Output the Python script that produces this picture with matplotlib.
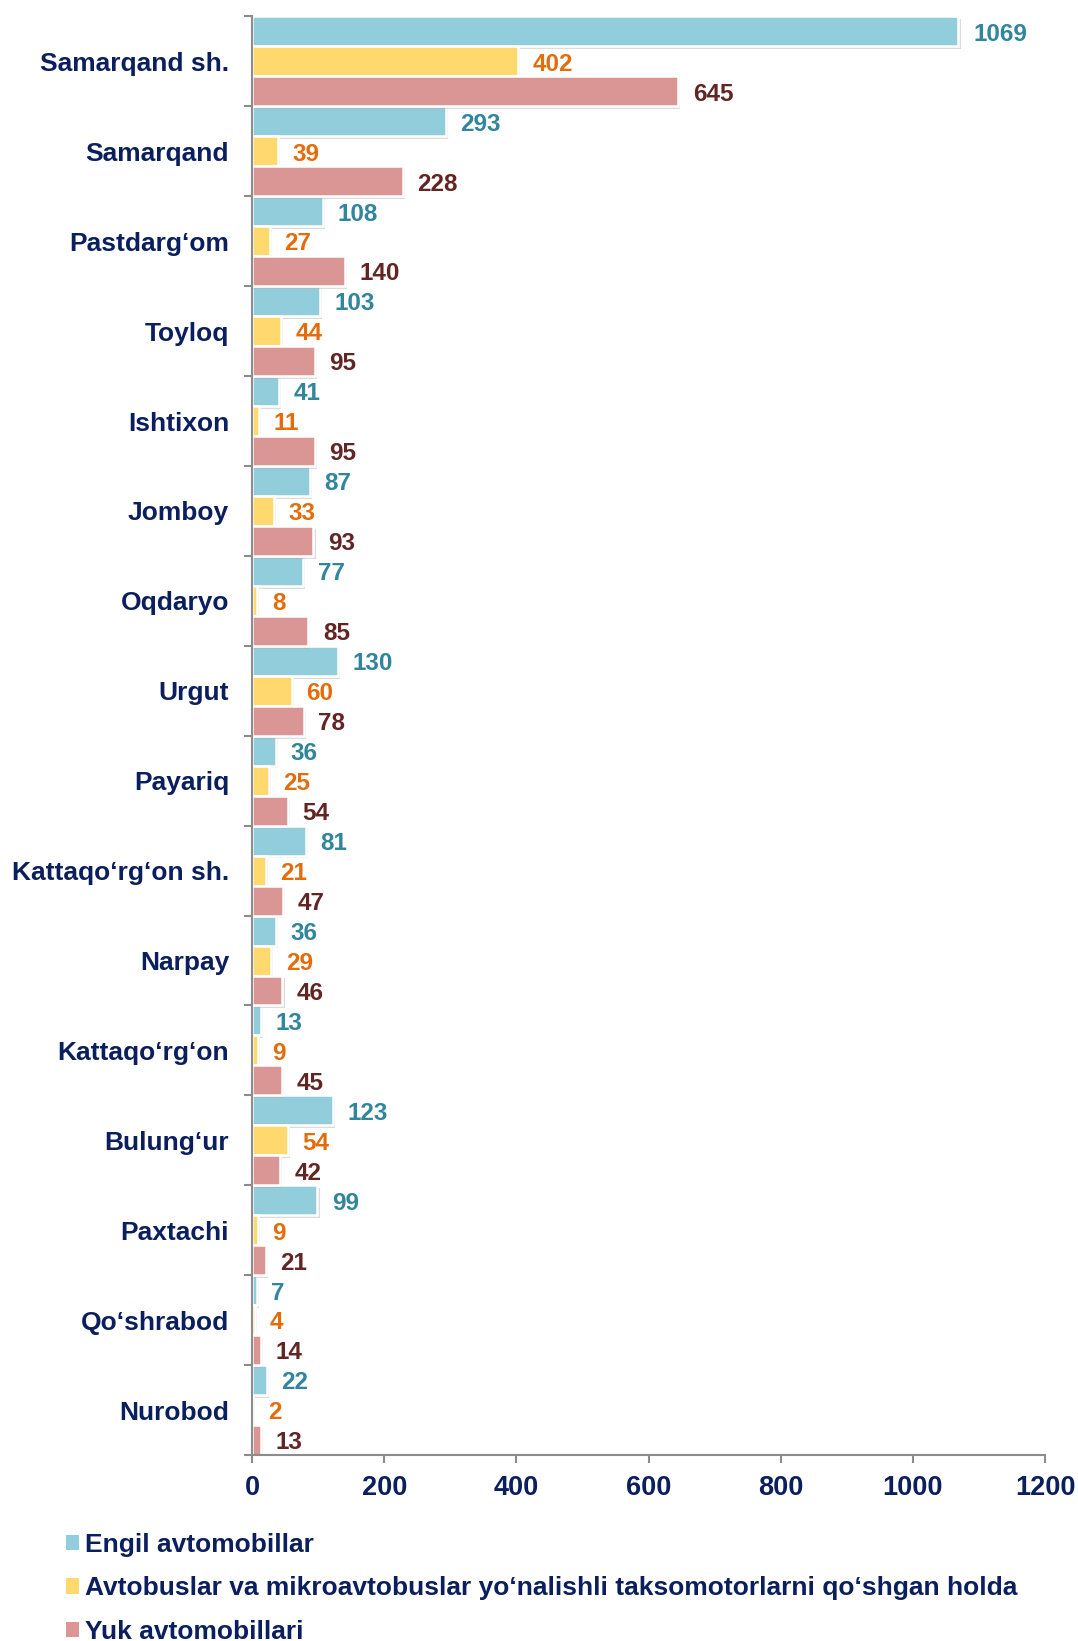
import matplotlib
matplotlib.use("Agg")
import numpy as np
import matplotlib.pyplot as plt
import matplotlib.patheffects as pe
from matplotlib.patches import Patch

districts = [
    "Samarqand sh.", "Samarqand", "Pastdarg‘om", "Toyloq", "Ishtixon",
    "Jomboy", "Oqdaryo", "Urgut", "Payariq", "Kattaqo‘rg‘on sh.",
    "Narpay", "Kattaqo‘rg‘on", "Bulung‘ur", "Paxtachi", "Qo‘shrabod", "Nurobod",
]
engil = [1069, 293, 108, 103, 41, 87, 77, 130, 36, 81, 36, 13, 123, 99, 7, 22]
avtobus = [402, 39, 27, 44, 11, 33, 8, 60, 25, 21, 29, 9, 54, 9, 4, 2]
yuk = [645, 228, 140, 95, 95, 93, 85, 78, 54, 47, 46, 45, 42, 21, 14, 13]

series_names = [
    "Engil avtomobillar",
    "Avtobuslar va mikroavtobuslar yo‘nalishli taksomotorlarni qo‘shgan holda",
    "Yuk avtomobillari",
]
bar_colors = ["#92CDDC", "#FFD86E", "#D99694"]
label_colors = ["#31859C", "#E46C0A", "#632523"]
navy = "#0B1F5E"
grey = "#8C8C8C"

plt.rcParams["font.family"] = ["Liberation Sans", "DejaVu Sans"]
plt.rcParams["font.weight"] = "bold"

fig = plt.figure(figsize=(10.78, 16.41), dpi=100)
ax = fig.add_axes([0.2338, 0.1133, 0.7356, 0.8767])

n = len(districts)
centers = np.arange(n)[::-1].astype(float)  # first district on top
h = 1 / 3
shadow = [pe.SimplePatchShadow(offset=(1.5, -2), shadow_rgbFace="#b0b0b0", alpha=0.45),
          pe.Normal()]

for i, (vals, col, lcol) in enumerate(zip([engil, avtobus, yuk], bar_colors, label_colors)):
    y = centers + h - i * h
    bars = ax.barh(y, vals, height=h, color=col, edgecolor="white", linewidth=1.8)
    for b in bars:
        b.set_path_effects(shadow)
    for yy, v in zip(y, vals):
        ax.annotate(str(v), (v, yy), xytext=(10.5, -2), textcoords="offset points",
                    va="center", ha="left", color=lcol, fontsize=17.5, fontweight="bold")

ax.set_xlim(0, 1200)
ax.set_ylim(-0.5, n - 0.5)
ax.set_xticks(range(0, 1201, 200))
ax.tick_params(axis="x", colors=grey, length=6, width=1.5, labelsize=19.5,
               labelcolor=navy, pad=8)

ax.set_yticks(centers)
ax.set_yticklabels(districts)
ax.set_yticks(np.arange(n + 1) - 0.5, minor=True)
ax.tick_params(axis="y", which="major", length=0, labelsize=19, labelcolor=navy, pad=16.5)
ax.tick_params(axis="y", which="minor", length=6, width=1.5, color=grey)

for s in ["top", "right"]:
    ax.spines[s].set_visible(False)
for s in ["left", "bottom"]:
    ax.spines[s].set_color(grey)
    ax.spines[s].set_linewidth(1.5)

handles = [Patch(facecolor=c, edgecolor="none") for c in bar_colors]
leg = fig.legend(handles, series_names, loc="upper left", bbox_to_anchor=(0.051, 0.0725),
                 frameon=False, fontsize=19, handlelength=0.5, handleheight=0.5,
                 handletextpad=0.22, labelspacing=0.75, borderaxespad=0)
for t in leg.get_texts():
    t.set_color(navy)
    t.set_fontweight("bold")

fig.savefig("out.png", dpi=100)
